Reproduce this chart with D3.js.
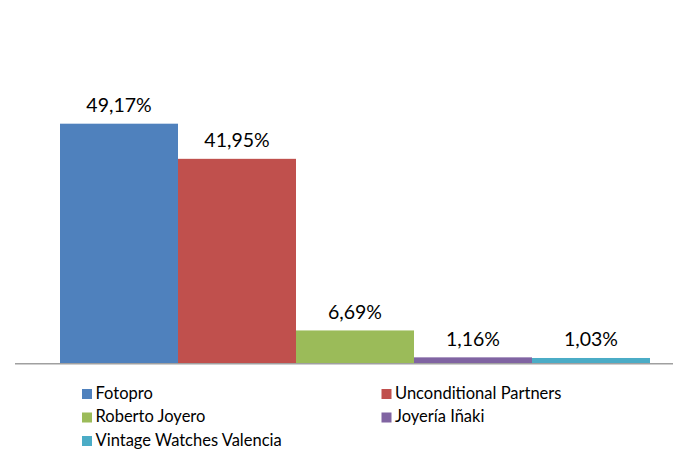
<!DOCTYPE html>
<html>
<head>
<meta charset="utf-8">
<script src="https://cdn.jsdelivr.net/npm/d3@7"></script>
<style>
  body { margin: 0; background: #fff; }
  text { font-family: Lato, "Open Sans", sans-serif; fill: #000; }
</style>
</head>
<body>
<div id="chart"></div>
<script>
// data
var seriesNames = ["Fotopro", "Unconditional Partners", "Roberto Joyero", "Joyería Iñaki", "Vintage Watches Valencia"];
var seriesValues = [49.17, 41.95, 6.69, 1.16, 1.03];
var seriesColors = ["#4F81BD", "#C0504D", "#9BBB59", "#8064A2", "#4BACC6"];

var width = 673, height = 454;
var baseY = 363, yMax = 60;

var svg = d3.select("#chart").append("svg")
    .attr("width", width)
    .attr("height", height);

var x = d3.scaleBand()
    .domain(seriesNames)
    .range([60, 650])
    .padding(0);

var y = d3.scaleLinear()
    .domain([0, yMax])
    .range([baseY, baseY - yMax * 4.867]);

// bars
svg.selectAll("rect.bar")
    .data(seriesNames)
    .enter().append("rect")
    .attr("class", "bar")
    .attr("x", function(d) { return x(d); })
    .attr("width", x.bandwidth())
    .attr("y", function(d, i) { return y(seriesValues[i]); })
    .attr("height", function(d, i) { return baseY - y(seriesValues[i]); })
    .style("fill", function(d, i) { return seriesColors[i]; });

// value labels
svg.selectAll("text.lbl")
    .data(seriesNames)
    .enter().append("text")
    .attr("class", "lbl")
    .attr("x", function(d) { return x(d) + x.bandwidth() / 2; })
    .attr("y", function(d, i) { return y(seriesValues[i]) - 11.5; })
    .attr("text-anchor", "middle")
    .style("font-size", "19.5px")
    .text(function(d, i) { return seriesValues[i].toFixed(2).replace(".", ",") + "%"; });

// category axis line
svg.append("line")
    .attr("x1", 15).attr("x2", 673)
    .attr("y1", baseY + 0.75).attr("y2", baseY + 0.75)
    .style("stroke", "#A0A0A0")
    .style("stroke-width", 1.5);

// legend, two columns
var legend = svg.selectAll("g.legend")
    .data(seriesNames)
    .enter().append("g")
    .attr("class", "legend")
    .attr("transform", function(d, i) {
        var col = i % 2, row = Math.floor(i / 2);
        return "translate(" + (col == 0 ? 82 : 381.5) + "," + (398.5 + row * 23.5) + ")";
    });

legend.append("rect")
    .attr("x", 0)
    .attr("y", -9.5)
    .attr("width", 10)
    .attr("height", 10)
    .style("fill", function(d, i) { return seriesColors[i]; });

legend.append("text")
    .attr("x", 13.5)
    .attr("y", 0)
    .style("font-size", "16.5px")
    .text(function(d) { return d; });
</script>
</body>
</html>
